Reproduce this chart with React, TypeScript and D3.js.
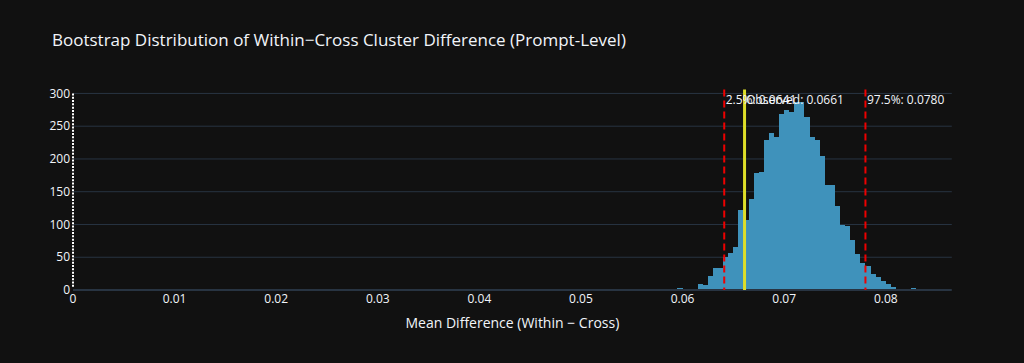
import React, { useEffect, useRef } from 'react';
import * as d3 from 'd3';

// Histogram bins (left edge of first bin + width) and counts
const binStart = 0.059;
const binWidth = 0.0005;
const counts = [
  1, 3, 1, 2, 2, 9, 8, 21, 34, 33,
  50, 57, 66, 122, 107, 139, 178, 180, 229, 240,
  233, 269, 275, 272, 287, 287, 264, 233, 229, 205,
  160, 160, 128, 99, 97, 76, 55, 41, 36, 24,
  20, 14, 9, 5, 2, 2, 2, 3, 2, 2,
  1,
];

const xTicks = [0, 0.01, 0.02, 0.03, 0.04, 0.05, 0.06, 0.07, 0.08];
const yTicks = [0, 50, 100, 150, 200, 250, 300];

// Reference lines: [value, label, kind]
const refLines = [
  { value: 0.0641, label: '2.5%: 0.0641', kind: 'ci' },
  { value: 0.0661, label: 'Observed: 0.0661', kind: 'obs' },
  { value: 0.078, label: '97.5%: 0.0780', kind: 'ci' },
];

const titleText = 'Bootstrap Distribution of Within\u2212Cross Cluster Difference (Prompt-Level)';
const xTitle = 'Mean Difference (Within \u2212 Cross)';

const App = () => {
  const svgRef = useRef(null);

  useEffect(() => {
    const width = 1024;
    const height = 363;
    const left = 73;
    const right = 951.8;
    const top = 89.5;
    const bottom = 290;
    const font = '"Open Sans", verdana, arial, sans-serif';
    const textColor = '#f2f5fa';

    const svg = d3.select(svgRef.current);
    svg.selectAll('*').remove();
    svg.attr('width', width).attr('height', height);

    svg.append('rect')
      .attr('width', width)
      .attr('height', height)
      .attr('fill', '#111111');

    const x = d3.scaleLinear().domain([0, 0.0865]).range([left, right]);
    const y = d3.scaleLinear().domain([0, 306]).range([bottom, top]);

    // Horizontal grid
    svg.append('g')
      .selectAll('line')
      .data(yTicks.filter(t => t > 0))
      .enter()
      .append('line')
      .attr('x1', left)
      .attr('x2', right)
      .attr('y1', d => y(d))
      .attr('y2', d => y(d))
      .attr('stroke', '#283442')
      .attr('stroke-width', 1);

    // Bars
    const bins = counts.map((c, i) => ({
      x0: binStart + i * binWidth,
      x1: binStart + (i + 1) * binWidth,
      count: c,
    }));

    svg.append('g')
      .selectAll('rect')
      .data(bins)
      .enter()
      .append('rect')
      .attr('x', d => x(d.x0))
      .attr('width', d => x(d.x1) - x(d.x0))
      .attr('y', d => y(d.count))
      .attr('height', d => y(0) - y(d.count))
      .attr('fill', '#3f92bb')
      .attr('shape-rendering', 'crispEdges');

    // Zero line (baseline)
    svg.append('line')
      .attr('x1', left)
      .attr('x2', right)
      .attr('y1', y(0))
      .attr('y2', y(0))
      .attr('stroke', '#283442')
      .attr('stroke-width', 2);

    // Dotted y axis at x = 0
    svg.append('line')
      .attr('x1', x(0))
      .attr('x2', x(0))
      .attr('y1', y(300))
      .attr('y2', y(0) - 2)
      .attr('stroke', '#ffffff')
      .attr('stroke-width', 2)
      .attr('stroke-dasharray', '2,1.3');

    // Reference lines
    refLines.forEach(r => {
      svg.append('line')
        .attr('x1', x(r.value))
        .attr('x2', x(r.value))
        .attr('y1', top)
        .attr('y2', bottom)
        .attr('stroke', r.kind === 'obs' ? '#dede28' : '#ee0000')
        .attr('stroke-width', r.kind === 'obs' ? 3 : 2)
        .attr('stroke-dasharray', r.kind === 'obs' ? null : '7,4');
    });

    refLines.forEach(r => {
      svg.append('text')
        .attr('x', x(r.value) + 1.5)
        .attr('y', top + 14)
        .attr('font-family', font)
        .attr('font-size', 12)
        .attr('fill', textColor)
        .text(r.label);
    });

    // Y tick labels
    svg.append('g')
      .selectAll('text')
      .data(yTicks)
      .enter()
      .append('text')
      .attr('x', left - 3)
      .attr('y', d => y(d))
      .attr('dy', '0.35em')
      .attr('text-anchor', 'end')
      .attr('font-family', font)
      .attr('font-size', 12)
      .attr('fill', textColor)
      .text(d => d);

    // X tick labels
    svg.append('g')
      .selectAll('text')
      .data(xTicks)
      .enter()
      .append('text')
      .attr('x', d => x(d))
      .attr('y', 302.5)
      .attr('text-anchor', 'middle')
      .attr('font-family', font)
      .attr('font-size', 12)
      .attr('fill', textColor)
      .text(d => (d === 0 ? '0' : d3.format('.2f')(d)));

    // Axis title
    svg.append('text')
      .attr('x', (left + right) / 2)
      .attr('y', 328)
      .attr('text-anchor', 'middle')
      .attr('font-family', font)
      .attr('font-size', 14)
      .attr('fill', textColor)
      .text(xTitle);

    // Chart title
    svg.append('text')
      .attr('x', 52)
      .attr('y', 46)
      .attr('font-family', font)
      .attr('font-size', 17)
      .attr('fill', textColor)
      .text(titleText);
  }, []);

  return <svg ref={svgRef} style={{ position: 'absolute', left: 0, top: 0 }}></svg>;
};

export default App;
